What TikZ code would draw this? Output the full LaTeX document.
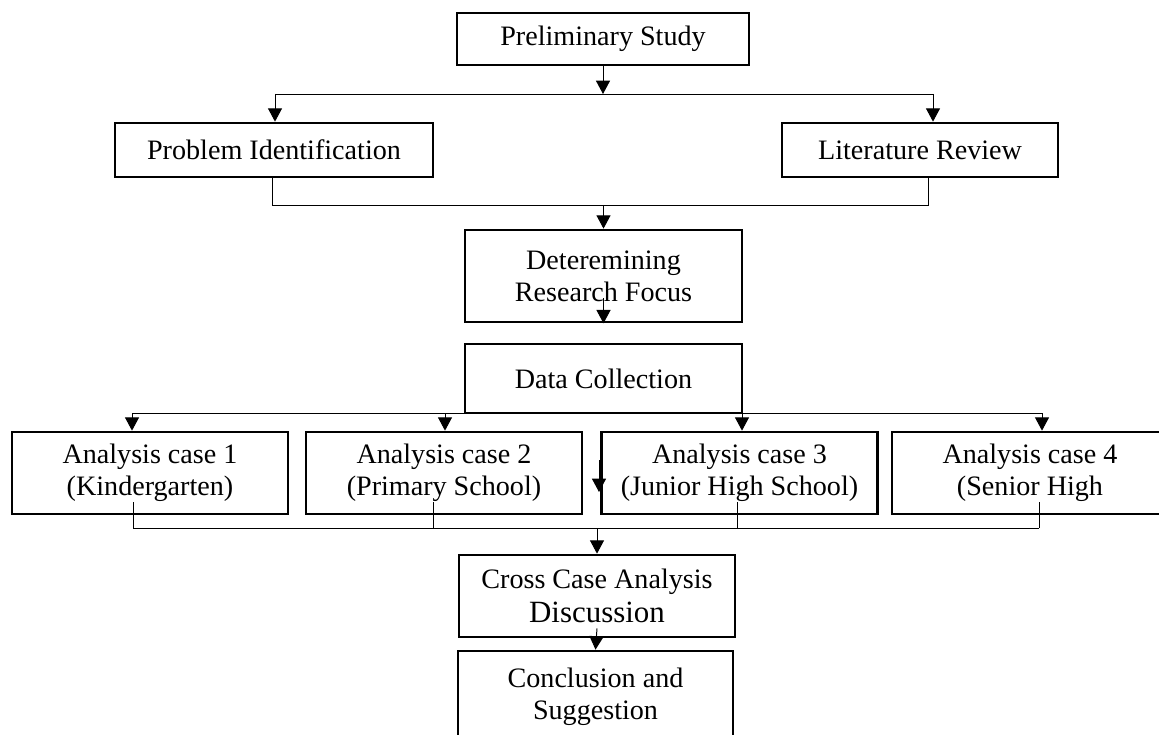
\documentclass[tikz,border=0pt]{standalone}
\usepackage{fontspec}
\setmainfont{Liberation Serif}
\usetikzlibrary{arrows.meta}

\begin{document}
\begin{tikzpicture}[x=0.025cm, y=-0.025cm, >={Triangle[width=10pt, length=9.5pt]},
        box/.style={draw, line width=1.9pt, inner sep=0pt, align=center,
            font=\fontsize{20}{22.7}\selectfont},
        link/.style={line width=0.7pt}]
        \useasboundingbox (0,0) rectangle (1159,735);
        \clip (0,0) rectangle (1159,735);

        % boxes
        \node[box, minimum width=7.3cm, minimum height=1.3cm] (ps) at (603,39) {Preliminary Study};
        \node[box, minimum width=7.95cm, minimum height=1.35cm] (pi) at (274,150) {Problem Identification};
        \node[box, minimum width=6.9cm, minimum height=1.35cm] (lr) at (920,150) {Literature Review};
        \node[box, minimum width=6.925cm, minimum height=2.3cm] (drf) at (603.5,276) {Deteremining\\Research Focus};
        \node[box, minimum width=6.925cm, minimum height=1.725cm] (dc) at (603.5,378.5) {Data Collection};

        \node[box, minimum width=6.9cm, minimum height=2.05cm] (c1) at (150,473) {Analysis case 1\\(Kindergarten)};
        \node[box, minimum width=6.9cm, minimum height=2.05cm] (c2) at (444,473) {Analysis case 2\\(Primary School)};
        \node[box, minimum width=6.9cm, minimum height=2.05cm] (c3) at (739.5,473) {Analysis case 3\\(Junior High School)};
        \node[box, minimum width=6.9cm, minimum height=2.05cm] (c4) at (1030,473) {Analysis case 4\\(Senior High};

        \node[box, minimum width=6.9cm, minimum height=2.05cm] (cca) at (597,596)
            {Cross Case Analysis\\[2pt]{\fontsize{22}{24}\selectfont Discussion}};
        \node[box, minimum width=6.875cm, minimum height=2.3cm] (cs) at (595.5,697) {Conclusion and\\Suggestion};

        % first split
        \coordinate (t1) at (275,94);
        \coordinate (t2) at (933,94);
        \draw[link] (t1) -- (t2);
        \draw[link, ->] (ps.south) -- (ps.south |- t1);
        \draw[link, ->] (t1) -- (t1 |- pi.north);
        \draw[link, ->] (t2) -- (t2 |- lr.north);

        % join
        \coordinate (m1) at (272,205);
        \coordinate (m2) at (928,205);
        \draw[link] (m1 |- pi.south) -- (m1) -- (m2) -- (m2 |- lr.south);
        \draw[link, ->] (drf.north |- m1) -- (drf.north);
        \draw[link, ->] (drf.south) ++(0,-25) -- (drf.south);

        % cases
        \coordinate (d1) at (132,413);
        \coordinate (d2) at (445,413);
        \coordinate (d3) at (742,413);
        \coordinate (d4) at (1042,413);
        \draw[link] (d1) -- (d4);
        \foreach \d/\c in {d1/c1, d2/c2, d3/c3, d4/c4}
            \draw[link, ->] (\d) -- (\d |- \c.north);
        \coordinate (stray) at (599,460);
        \draw[link, ->] (stray) -- ++(0,32);

        % cross case
        \coordinate (b1) at (133,528);
        \coordinate (b2) at (433,528);
        \coordinate (b3) at (737,528);
        \coordinate (b4) at (1039,528);
        \draw[link] (b1) -- (b4);
        \foreach \b in {b1, b2, b3, b4}
            \draw[link] (\b) -- ++(0,-26);
        \draw[link, ->] (cca.north |- b1) -- (cca.north);
        \draw[link, ->] (cca.south) ++(0,-10) -- (cs.north);
\end{tikzpicture}
\end{document}
